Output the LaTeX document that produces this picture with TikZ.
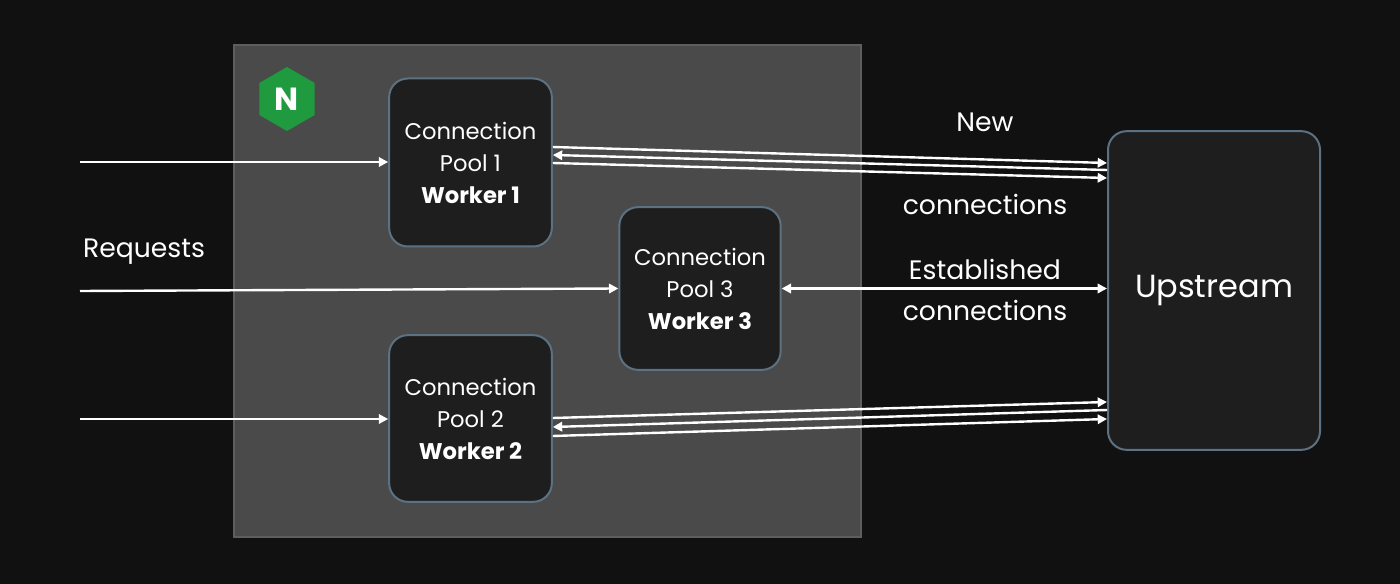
\documentclass[tikz,border=0pt]{standalone}
\usepackage{fontspec}
\setmainfont{Poppins}
\usetikzlibrary{arrows.meta,shapes.geometric}
\definecolor{bg}{HTML}{111111}
\definecolor{panel}{HTML}{4A4A4A}
\definecolor{panelb}{HTML}{5E5E5E}
\definecolor{boxf}{HTML}{1E1E1E}
\definecolor{boxb}{HTML}{5C7182}
\definecolor{ngreen}{HTML}{1F9A3E}
\tikzset{
  box/.style={draw=boxb,line width=1.5pt,fill=boxf,rounded corners=14pt,text=white,align=center,font=\fontsize{17}{24}\selectfont},
  ar/.style={white,line width=1.8pt,-{Triangle[length=7pt,width=7pt]}},
  al/.style={white,line width=1.8pt,{Triangle[length=7pt,width=7pt]}-},
  lbl/.style={text=white,font=\fontsize{20}{24}\selectfont}
}
\begin{document}
\begin{tikzpicture}[x=0.75pt,y=-0.75pt]
\fill[bg] (0,0) rectangle (1400,584);
\useasboundingbox (0,0) rectangle (1400,584);
\draw[panelb,line width=2pt,fill=panel] (234,45) rectangle (861,537);
\node[regular polygon,regular polygon sides=6,shape border rotate=30,fill=ngreen,minimum size=48pt,inner sep=0] (logo) at (287,99) {};
\node[text=white,font=\bfseries\fontsize{24}{24}\selectfont] at (logo) {N};
\node[box,minimum width=122pt,minimum height=126pt] (w1) at (470.5,162.5) {Connection\\Pool 1\\\textbf{Worker 1}};
\node[box,minimum width=121pt,minimum height=122pt] (w3) at (700,288.5) {Connection\\Pool 3\\\textbf{Worker 3}};
\node[box,minimum width=122pt,minimum height=125pt] (w2) at (470.5,418.5) {Connection\\Pool 2\\\textbf{Worker 2}};
\node[box,minimum width=159pt,minimum height=239pt,font=\fontsize{24}{28}\selectfont] (up) at (1214,290.5) {Upstream};
\coordinate (r1) at (80,162); \coordinate (r3) at (80,291); \coordinate (r2) at (80,419);
\draw[ar] (r1) -- (w1.west|-r1);
\draw[ar] (r3) -- (w3.west);
\draw[ar] (r2) -- (w2.west|-r2);
\node[lbl] (req) at (144,252) {Requests};
\draw[white,line width=1.8pt,{Triangle[length=7pt,width=7pt]}-{Triangle[length=7pt,width=7pt]}] (w3.east) -- (up.west|-w3.east);
% pool 1 lines
\draw[ar] (w1.east|-0,147) -- (up.west|-0,163);
\draw[al] (w1.east|-0,155) -- (up.west|-0,170);
\draw[ar] (w1.east|-0,163) -- (up.west|-0,178);
% pool 2 lines
\draw[ar] (w2.east|-0,418) -- (up.west|-0,402);
\draw[al] (w2.east|-0,427) -- (up.west|-0,410);
\draw[ar] (w2.east|-0,436) -- (up.west|-0,419);
\node[lbl] at (985,122) {New};
\node[lbl] at (985,204) {connections};
\node[lbl] at (985,269) {Established};
\node[lbl] at (985,310) {connections};
\end{tikzpicture}
\end{document}
